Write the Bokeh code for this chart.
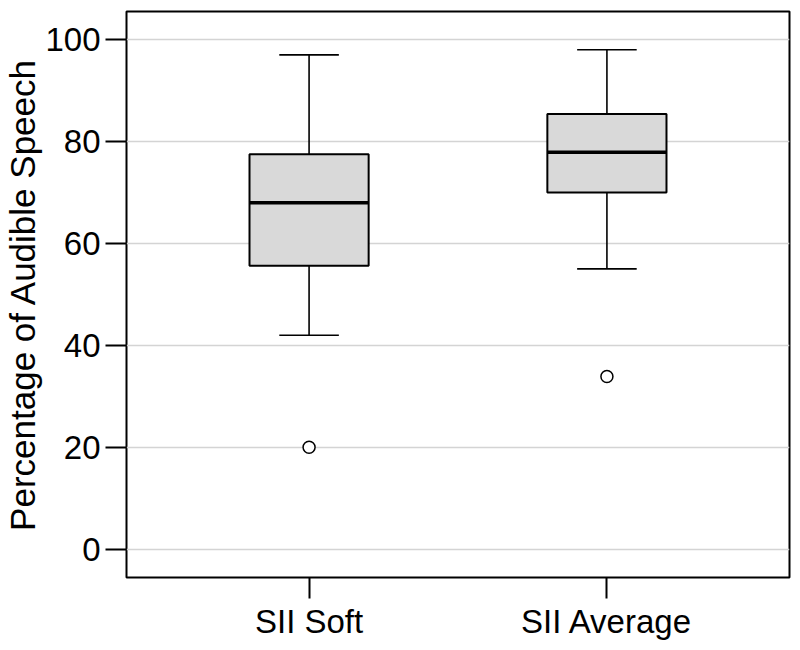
from bokeh.plotting import figure
from bokeh.embed import file_html
from bokeh.resources import INLINE
from bokeh.models import Range1d, FixedTicker, ColumnDataSource

# ---- data ----
categories = ["SII Soft", "SII Average"]
lower_whisker = [42.0, 55.0]
q1 = [55.6, 70.0]
median = [68.0, 77.9]
q3 = [77.5, 85.4]
upper_whisker = [97.0, 98.0]
outlier_cat = ["SII Soft", "SII Average"]
outlier_val = [20.0, 33.9]
y_ticks = [0, 20, 40, 60, 80, 100]

FONT = "Liberation Sans"
BOX_W = 0.40
CAP_W = 0.20

pos = [i + 1 for i in range(len(categories))]
pos_of = {c: p_ for c, p_ in zip(categories, pos)}

src = ColumnDataSource(dict(
    x=pos,
    lo=lower_whisker, q1=q1, med=median, q3=q3, hi=upper_whisker,
    bx0=[x - BOX_W / 2 for x in pos], bx1=[x + BOX_W / 2 for x in pos],
    cx0=[x - CAP_W / 2 for x in pos], cx1=[x + CAP_W / 2 for x in pos],
))
out_src = ColumnDataSource(dict(x=[pos_of[c] for c in outlier_cat], y=outlier_val))

p = figure(width=792, height=642, output_backend="svg", toolbar_location=None,
           x_range=Range1d(0.387, 2.613), y_range=Range1d(-5.54, 105.5),
           min_border_top=11, min_border_right=3, min_border_bottom=62, min_border_left=10)

p.background_fill_color = "white"
p.border_fill_color = "white"
p.outline_line_color = "black"
p.outline_line_width = 2

p.xgrid.visible = False
p.ygrid.grid_line_color = "#d4d4d4"
p.ygrid.grid_line_width = 1.5
p.ygrid.ticker = FixedTicker(ticks=y_ticks)

# whiskers
p.segment(x0="x", y0="q3", x1="x", y1="hi", source=src, line_color="black", line_width=1.6)
p.segment(x0="x", y0="lo", x1="x", y1="q1", source=src, line_color="black", line_width=1.6)
p.segment(x0="cx0", y0="hi", x1="cx1", y1="hi", source=src, line_color="black", line_width=1.6)
p.segment(x0="cx0", y0="lo", x1="cx1", y1="lo", source=src, line_color="black", line_width=1.6)
# boxes
p.quad(left="bx0", right="bx1", bottom="q1", top="q3", source=src,
       fill_color="#d9d9d9", line_color="black", line_width=2)
# medians
p.segment(x0="bx0", y0="med", x1="bx1", y1="med", source=src, line_color="black", line_width=3.5)
# outliers
p.scatter(x="x", y="y", source=out_src, marker="circle", size=12,
          fill_color="white", line_color="black", line_width=1.5)

# axes
p.yaxis.ticker = FixedTicker(ticks=y_ticks)
p.xaxis.ticker = FixedTicker(ticks=pos)
p.xaxis.major_label_overrides = {x: c for x, c in zip(pos, categories)}
for ax in (p.xaxis, p.yaxis):
    ax.axis_line_color = None
    ax.major_tick_in = 0
    ax.major_tick_out = 21
    ax.major_tick_line_color = "black"
    ax.major_tick_line_width = 2
    ax.minor_tick_line_color = None
    ax.major_label_text_font = FONT
    ax.major_label_text_color = "black"
    ax.major_label_text_font_size = "33px"
    ax.major_label_standoff = 5
p.xaxis.major_label_standoff = 4
p.yaxis.axis_label = "Percentage of Audible Speech"
p.yaxis.axis_label_text_font = FONT
p.yaxis.axis_label_text_font_style = "normal"
p.yaxis.axis_label_text_font_size = "35px"
p.yaxis.axis_label_text_color = "black"
p.yaxis.axis_label_standoff = 0

open("out.html", "w").write(file_html(p, INLINE))
